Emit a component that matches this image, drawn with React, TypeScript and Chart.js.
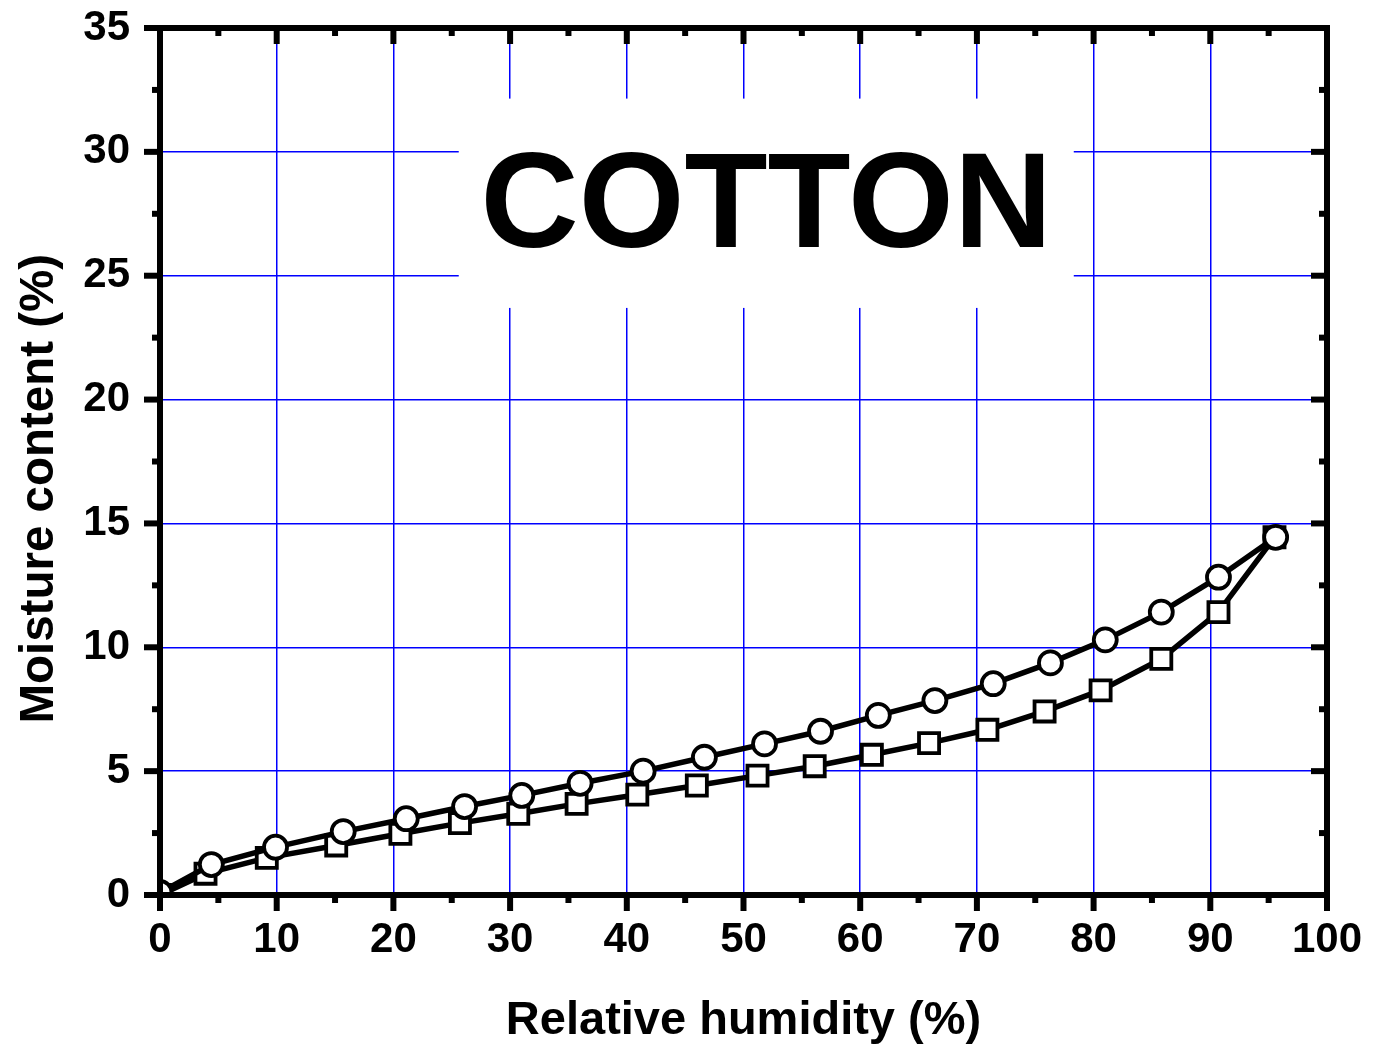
import React, { useEffect, useRef } from "react";
import { Chart, registerables } from "chart.js";

Chart.register(...registerables);

// Upper curve (circles)
const circleRH = [0, 4.4, 9.9, 15.7, 21.1, 26.1, 31.0, 36.0, 41.4, 46.65, 51.8, 56.6, 61.55, 66.4, 71.4, 76.3, 81.0, 85.8, 90.7, 95.6];
const circleMC = [0.1, 1.23, 1.93, 2.56, 3.08, 3.57, 4.02, 4.51, 5.0, 5.56, 6.1, 6.61, 7.25, 7.85, 8.53, 9.37, 10.3, 11.42, 12.83, 14.44];
// Lower curve (squares)
const squareRH = [0, 3.9, 9.15, 15.1, 20.6, 25.7, 30.7, 35.7, 40.9, 46.0, 51.2, 56.1, 61.0, 65.9, 70.9, 75.8, 80.6, 85.8, 90.7, 95.5];
const squareMC = [0, 0.86, 1.5, 2.0, 2.47, 2.9, 3.28, 3.68, 4.05, 4.42, 4.82, 5.2, 5.66, 6.13, 6.67, 7.41, 8.26, 9.53, 11.42, 14.44];

const xMajorTicks = [0, 10, 20, 30, 40, 50, 60, 70, 80, 90, 100];
const xMinorTicks = [5, 15, 25, 35, 45, 55, 65, 75, 85, 95];
const yMajorTicks = [0, 5, 10, 15, 20, 25, 30, 35];
const yMinorTicks = [2.5, 7.5, 12.5, 17.5, 22.5, 27.5, 32.5];

const xTitle = "Relative humidity (%)";
const yTitle = "Moisture content (%)";
const labelText = "COTTON";

const FONT = '"Liberation Sans", Arial, Helvetica, sans-serif';

const labelPlugin = {
  id: "cottonLabel",
  beforeDatasetsDraw(chart: any) {
    const { ctx } = chart;
    const xs = chart.scales.x;
    const ys = chart.scales.y;
    const left = xs.getPixelForValue(25.6);
    const right = xs.getPixelForValue(78.3);
    const top = ys.getPixelForValue(32.15);
    const bottom = ys.getPixelForValue(23.7);
    ctx.save();
    ctx.fillStyle = "#ffffff";
    ctx.fillRect(left, top, right - left, bottom - top);
    ctx.fillStyle = "#000000";
    ctx.font = `bold 136px ${FONT}`;
    ctx.textAlign = "center";
    ctx.textBaseline = "alphabetic";
    ctx.fillText(labelText, (left + right) / 2, ys.getPixelForValue(26.17));
    ctx.restore();
  },
};

const yTitlePlugin = {
  id: "yTitle",
  afterDraw(chart: any) {
    const { ctx } = chart;
    const ys = chart.scales.y;
    // title centred a bit below the axis middle, as in the source figure
    const cy = ys.getPixelForValue(16.4);
    ctx.save();
    ctx.translate(53, cy);
    ctx.rotate(-Math.PI / 2);
    ctx.fillStyle = "#000000";
    ctx.font = `bold 47.5px ${FONT}`;
    ctx.textAlign = "center";
    ctx.textBaseline = "alphabetic";
    ctx.fillText(yTitle, 0, 0);
    ctx.restore();
  },
};

const framePlugin = {
  id: "originFrame",
  afterDatasetsDraw(chart: any) {
    const { ctx, chartArea } = chart;
    const xs = chart.scales.x;
    const ys = chart.scales.y;
    const { left, right, top, bottom } = chartArea;
    const major = 16;
    const minor = 8;
    ctx.save();
    ctx.strokeStyle = "#000000";
    ctx.lineCap = "butt";
    ctx.lineWidth = 6;
    const tick = (x1: number, y1: number, x2: number, y2: number) => {
      ctx.beginPath();
      ctx.moveTo(x1, y1);
      ctx.lineTo(x2, y2);
      ctx.stroke();
    };
    xMajorTicks.forEach((v) => {
      const px = xs.getPixelForValue(v);
      tick(px, bottom, px, bottom + major);
      tick(px, top, px, top + major);
    });
    xMinorTicks.forEach((v) => {
      const px = xs.getPixelForValue(v);
      tick(px, bottom, px, bottom + minor);
      tick(px, top, px, top + minor);
    });
    yMajorTicks.forEach((v) => {
      const py = ys.getPixelForValue(v);
      tick(left, py, left - major, py);
      tick(right, py, right - major, py);
    });
    yMinorTicks.forEach((v) => {
      const py = ys.getPixelForValue(v);
      tick(left, py, left - minor, py);
      tick(right, py, right - minor, py);
    });
    ctx.lineJoin = "miter";
    ctx.lineWidth = 6;
    ctx.strokeRect(left, top, right - left, bottom - top);
    ctx.restore();
  },
};

export default function App() {
  const canvasRef = useRef<HTMLCanvasElement | null>(null);

  useEffect(() => {
    document.body.style.margin = "0";
    const canvas = canvasRef.current;
    if (!canvas) return;
    const chart = new Chart(canvas, {
      type: "line",
      data: {
        datasets: [
          {
            label: "Circles",
            data: circleRH.map((x, i) => ({ x, y: circleMC[i] })),
            borderColor: "#000000",
            borderWidth: 5.5,
            pointStyle: "circle",
            pointRadius: 11.5,
            pointBorderWidth: 3.8,
            pointBackgroundColor: "#ffffff",
            pointBorderColor: "#000000",
            tension: 0,
          },
          {
            label: "Squares",
            data: squareRH.map((x, i) => ({ x, y: squareMC[i] })),
            borderColor: "#000000",
            borderWidth: 5.5,
            pointStyle: "rect",
            pointRadius: 14.2,
            pointBorderWidth: 3.8,
            pointBackgroundColor: "#ffffff",
            pointBorderColor: "#000000",
            tension: 0,
          },
        ],
      },
      options: {
        animation: false,
        responsive: false,
        devicePixelRatio: 1,
        events: [],
        layout: { padding: { top: 28, right: 47, left: 0, bottom: 0 } },
        plugins: {
          legend: { display: false },
          tooltip: { enabled: false },
        },
        scales: {
          x: {
            type: "linear",
            min: 0,
            max: 100,
            afterFit: (s: any) => {
              s.height = 151;
              s.paddingLeft = 0;
              s.paddingRight = 0;
              s.paddingTop = 0;
              s.paddingBottom = 0;
            },
            afterBuildTicks: (s: any) => {
              s.ticks = xMajorTicks.map((v) => ({ value: v }));
            },
            ticks: {
              color: "#000000",
              font: { family: FONT, size: 42, weight: "bold" },
              padding: 20,
              maxRotation: 0,
            },
            grid: {
              color: "#0000ff",
              lineWidth: 1.5,
              drawTicks: false,
            },
            border: { display: false },
            title: {
              display: true,
              text: xTitle,
              color: "#000000",
              font: { family: FONT, size: 47, weight: "bold", lineHeight: 1.064 },
              padding: 0,
            },
          },
          y: {
            type: "linear",
            min: 0,
            max: 35,
            afterFit: (s: any) => {
              s.width = 160;
              s.paddingLeft = 0;
              s.paddingRight = 0;
              s.paddingTop = 0;
              s.paddingBottom = 0;
            },
            afterBuildTicks: (s: any) => {
              s.ticks = yMajorTicks.map((v) => ({ value: v }));
            },
            ticks: {
              color: "#000000",
              font: { family: FONT, size: 42, weight: "bold" },
              padding: 30,
            },
            grid: {
              color: "#0000ff",
              lineWidth: 1.5,
              drawTicks: false,
            },
            border: { display: false },
            title: { display: false },
          },
        },
      },
      plugins: [labelPlugin, framePlugin, yTitlePlugin],
    });
    return () => chart.destroy();
  }, []);

  return (
    <div style={{ position: "absolute", left: 0, top: 0, width: 1374, height: 1046, background: "#ffffff" }}>
      <canvas ref={canvasRef} width={1374} height={1046} />
    </div>
  );
}
